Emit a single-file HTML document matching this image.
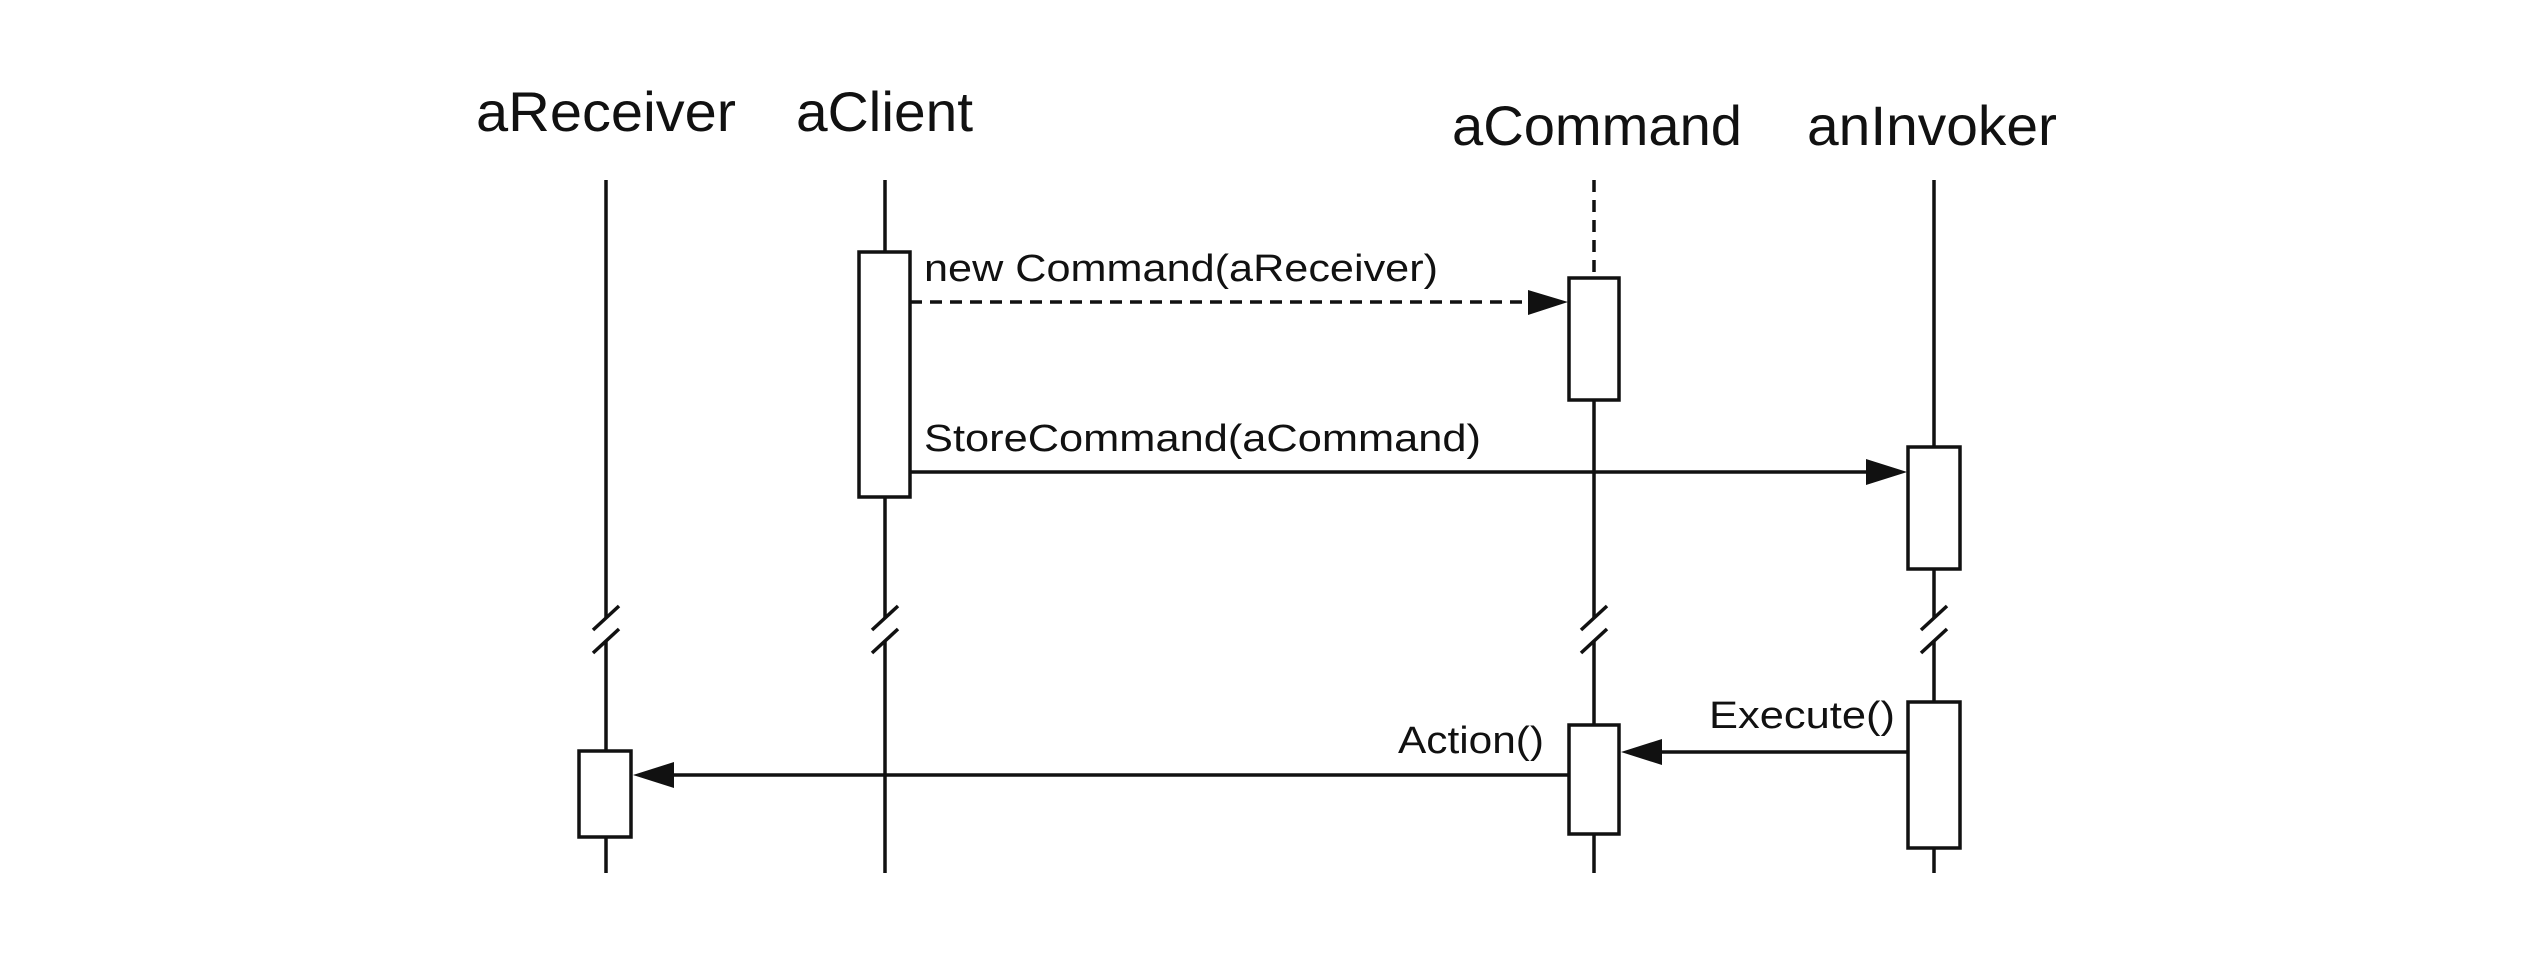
<!DOCTYPE html>
<html><head><meta charset="utf-8"><style>html,body{margin:0;padding:0;background:#fff}svg{display:block}</style></head>
<body>
<svg width="2532" height="956" viewBox="0 0 2532 956" xmlns="http://www.w3.org/2000/svg" font-family="'Liberation Sans', sans-serif" fill="#111">
<g font-size="56">
<text x="476" y="131" textLength="260" lengthAdjust="spacingAndGlyphs">aReceiver</text>
<text x="796" y="131" textLength="177" lengthAdjust="spacingAndGlyphs">aClient</text>
<text x="1452" y="145" textLength="290" lengthAdjust="spacingAndGlyphs">aCommand</text>
<text x="1807" y="145" textLength="250" lengthAdjust="spacingAndGlyphs">anInvoker</text>
</g>
<g stroke="#111" stroke-width="3.5" fill="none">
<line x1="606" y1="180" x2="606" y2="618"/>
<line x1="606" y1="641" x2="606" y2="751"/>
<line x1="606" y1="837" x2="606" y2="873"/>
<line x1="593" y1="653" x2="619" y2="629"/>
<line x1="593" y1="630" x2="619" y2="606"/>
<line x1="885" y1="180" x2="885" y2="252"/>
<line x1="885" y1="497" x2="885" y2="618"/>
<line x1="885" y1="641" x2="885" y2="873"/>
<line x1="872" y1="653" x2="898" y2="629"/>
<line x1="872" y1="630" x2="898" y2="606"/>
<line x1="1594" y1="180" x2="1594" y2="278" stroke-dasharray="12,8"/>
<line x1="1594" y1="400" x2="1594" y2="618"/>
<line x1="1594" y1="641" x2="1594" y2="725"/>
<line x1="1594" y1="834" x2="1594" y2="873"/>
<line x1="1581" y1="653" x2="1607" y2="629"/>
<line x1="1581" y1="630" x2="1607" y2="606"/>
<line x1="1934" y1="180" x2="1934" y2="447"/>
<line x1="1934" y1="569" x2="1934" y2="618"/>
<line x1="1934" y1="641" x2="1934" y2="702"/>
<line x1="1934" y1="848" x2="1934" y2="873"/>
<line x1="1921" y1="653" x2="1947" y2="629"/>
<line x1="1921" y1="630" x2="1947" y2="606"/>
<rect x="859" y="252" width="51" height="245" fill="#fff"/>
<rect x="1569" y="278" width="50" height="122" fill="#fff"/>
<rect x="1908" y="447" width="52" height="122" fill="#fff"/>
<rect x="579" y="751" width="52" height="86" fill="#fff"/>
<rect x="1569" y="725" width="50" height="109" fill="#fff"/>
<rect x="1908" y="702" width="52" height="146" fill="#fff"/>
<line x1="910" y1="302" x2="1530" y2="302" stroke-dasharray="12,8"/>
<line x1="910" y1="472" x2="1870" y2="472"/>
<line x1="1908" y1="752" x2="1655" y2="752"/>
<line x1="1569" y1="775" x2="668" y2="775"/>
</g>
<g fill="#111" stroke="none">
<polygon points="1528,290 1568,302 1528,315"/>
<polygon points="1866,459 1907,472 1866,485"/>
<polygon points="1662,739 1621,752 1662,765"/>
<polygon points="674,762 633,775 674,788"/>
</g>
<g font-size="38">
<text x="924" y="281" textLength="514" lengthAdjust="spacingAndGlyphs">new Command(aReceiver)</text>
<text x="924" y="451" textLength="557" lengthAdjust="spacingAndGlyphs">StoreCommand(aCommand)</text>
<text x="1709" y="728" textLength="186" lengthAdjust="spacingAndGlyphs">Execute()</text>
<text x="1398" y="753" textLength="146" lengthAdjust="spacingAndGlyphs">Action()</text>
</g>
</svg>
</body></html>
